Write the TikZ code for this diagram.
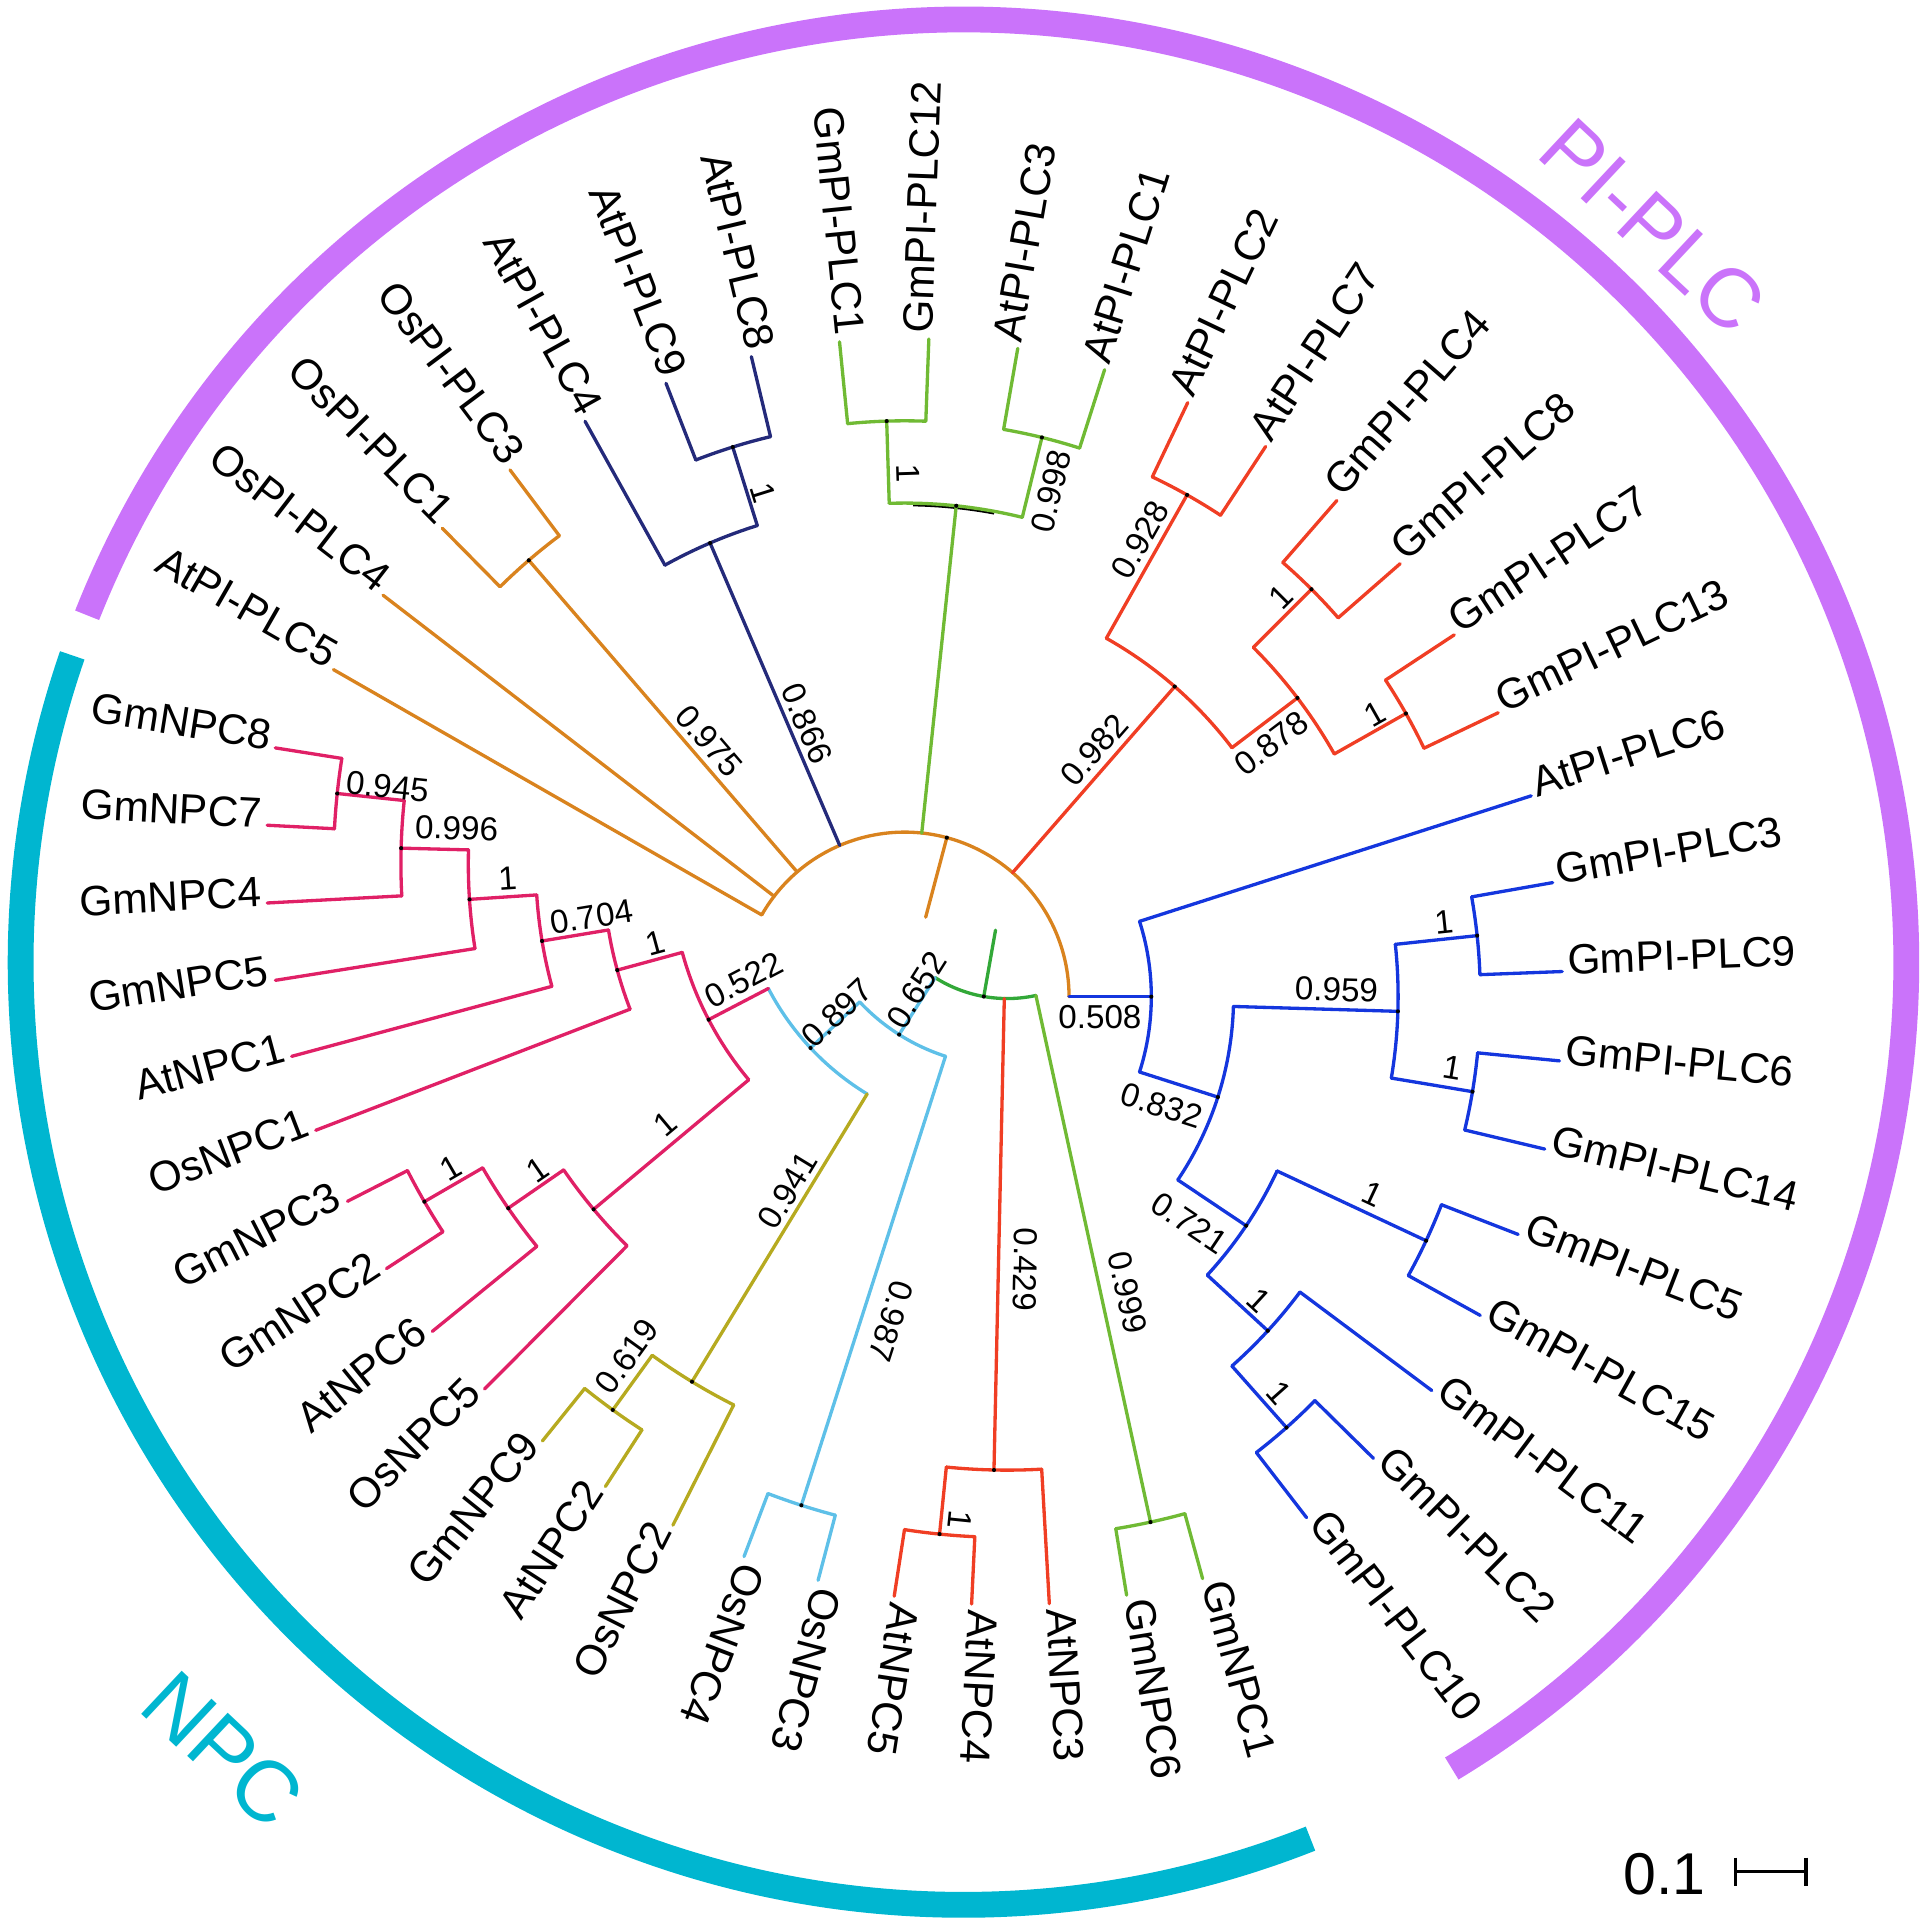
\documentclass[tikz,border=0pt]{standalone}
\usepackage{fontspec}
\setmainfont{Liberation Sans}
\definecolor{cOr}{RGB}{217,131,30}
\definecolor{cNavy}{RGB}{36,42,122}
\definecolor{cLg}{RGB}{112,186,52}
\definecolor{cRed}{RGB}{240,62,36}
\definecolor{cBlue}{RGB}{20,54,222}
\definecolor{cPink}{RGB}{224,32,102}
\definecolor{cLc}{RGB}{94,192,232}
\definecolor{cOl}{RGB}{182,170,32}
\definecolor{cDg}{RGB}{50,168,56}
\definecolor{cPur}{RGB}{202,115,250}
\definecolor{cCy}{RGB}{0,182,208}
\newcommand\trRad[4]{\draw[tree,#1] (#2:#3) -- (#2:#4);}
\newcommand\trArc[4]{\draw[tree,#1] (#2:#4) arc[start angle=#2,end angle=#3,radius=#4];}
\newcommand\lfR[4]{\node[leaf,anchor=mid west,rotate=#2] (#1) at (#2:#3) {#4};}
\newcommand\lfL[4]{\node[leaf,anchor=mid east,rotate=#2-180] (#1) at (#2:#3) {#4};}
\begin{document}
\begin{tikzpicture}[x=1pt,y=1pt,line cap=round,line join=round,
  tree/.style={line width=2.7pt},
  leaf/.style={font=\fontsize{34.5}{40}\selectfont,inner sep=4.5pt},
  supp/.style={font=\fontsize{27}{30}\selectfont,inner sep=0pt},
  ring/.style={line width=21pt,line cap=butt}]
\useasboundingbox (0,0) rectangle (1567,1568);
% ---------- rings ----------
\begin{scope}[shift={(784,785)}]
\draw[ring,cPur] (158.4:767) arc[start angle=158.4,end angle=-58.8,radius=767];
\draw[ring,cCy] (161.0:767) arc[start angle=161.0,end angle=291.6,radius=767];
\end{scope}
\node[font=\fontsize{68}{70}\selectfont,text=cPur,rotate=-43.1,inner sep=0pt] (tPI) at (1345,1384) {PI-PLC};
\node[font=\fontsize{70}{72}\selectfont,text=cCy,rotate=-43.2,inner sep=0pt] (tNPC) at (181.7,144.2) {NPC};
% ---------- PI-PLC subtree ----------
\begin{scope}[shift={(736,757)}]
\trArc{cOr}{150.2}{0}{133.88}
\trRad{cOr}{75.1}{133.88}{66.94}
\trRad{cOr}{150.2}{133.88}{535.5}
\trRad{cOr}{142.41}{133.88}{535.5}
\trRad{cOr}{130.725}{133.88}{468.58}
\trArc{cOr}{134.62}{126.83}{468.58}
\trRad{cOr}{134.62}{468.58}{535.5}
\trRad{cOr}{126.83}{468.58}{535.5}
\trRad{cNavy}{113.1975}{133.88}{401.64}
\trArc{cNavy}{119.04}{107.355}{401.64}
\trRad{cNavy}{119.04}{401.64}{535.5}
\trRad{cNavy}{107.355}{401.64}{468.58}
\trArc{cNavy}{111.25}{103.46}{468.58}
\trRad{cNavy}{111.25}{468.58}{535.5}
\trRad{cNavy}{103.46}{468.58}{535.5}
\draw[line width=1.8pt,line cap=butt,black] (89.0:399.9) arc[start angle=89.0,end angle=79.5,radius=399.9];
\trRad{cLg}{83.985}{133.88}{401.64}
\trArc{cLg}{91.775}{76.195}{401.64}
\trRad{cLg}{91.775}{401.64}{468.58}
\trArc{cLg}{95.67}{87.88}{468.58}
\trRad{cLg}{95.67}{468.58}{535.5}
\trRad{cLg}{87.88}{468.58}{535.5}
\trRad{cLg}{76.195}{401.64}{468.58}
\trArc{cLg}{80.09}{72.3}{468.58}
\trRad{cLg}{80.09}{468.58}{535.5}
\trRad{cLg}{72.3}{468.58}{535.5}
\trRad{cRed}{48.93}{133.88}{334.7}
\trArc{cRed}{60.615}{37.245}{334.7}
\trRad{cRed}{60.615}{334.7}{468.58}
\trArc{cRed}{64.51}{56.72}{468.58}
\trRad{cRed}{64.51}{468.58}{535.5}
\trRad{cRed}{56.72}{468.58}{535.5}
\trRad{cRed}{37.245}{334.7}{401.64}
\trArc{cRed}{45.035}{29.455}{401.64}
\trRad{cRed}{45.035}{401.64}{468.58}
\trArc{cRed}{48.93}{41.14}{468.58}
\trRad{cRed}{48.93}{468.58}{535.5}
\trRad{cRed}{41.14}{468.58}{535.5}
\trRad{cRed}{29.455}{401.64}{468.58}
\trArc{cRed}{33.35}{25.56}{468.58}
\trRad{cRed}{33.35}{468.58}{535.5}
\trRad{cRed}{25.56}{468.58}{535.5}
\trRad{cBlue}{0}{133.88}{200.82}
\trArc{cBlue}{17.77}{-17.772}{200.82}
\trRad{cBlue}{17.77}{200.82}{535.5}
\trRad{cBlue}{-17.772}{200.82}{267.76}
\trArc{cBlue}{-1.705}{-33.839}{267.76}
\trRad{cBlue}{-1.705}{267.76}{401.64}
\trArc{cBlue}{6.085}{-9.495}{401.64}
\trRad{cBlue}{6.085}{401.64}{468.58}
\trArc{cBlue}{9.98}{2.19}{468.58}
\trRad{cBlue}{9.98}{468.58}{535.5}
\trRad{cBlue}{2.19}{468.58}{535.5}
\trRad{cBlue}{-9.495}{401.64}{468.58}
\trArc{cBlue}{-5.6}{-13.39}{468.58}
\trRad{cBlue}{-5.6}{468.58}{535.5}
\trRad{cBlue}{-13.39}{468.58}{535.5}
\trRad{cBlue}{-33.839}{267.76}{334.7}
\trArc{cBlue}{-25.075}{-42.6025}{334.7}
\trRad{cBlue}{-25.075}{334.7}{468.58}
\trArc{cBlue}{-21.18}{-28.97}{468.58}
\trRad{cBlue}{-21.18}{468.58}{535.5}
\trRad{cBlue}{-28.97}{468.58}{535.5}
\trRad{cBlue}{-42.6025}{334.7}{401.64}
\trArc{cBlue}{-36.76}{-48.445}{401.64}
\trRad{cBlue}{-36.76}{401.64}{535.5}
\trRad{cBlue}{-48.445}{401.64}{468.58}
\trArc{cBlue}{-44.55}{-52.34}{468.58}
\trRad{cBlue}{-44.55}{468.58}{535.5}
\trRad{cBlue}{-52.34}{468.58}{535.5}
\foreach \a/\r in {75.1/133.88,130.725/468.58,113.1975/401.64,107.355/468.58,83.985/401.64,91.775/468.58,76.195/468.58,48.93/334.7,60.615/468.58,37.245/401.64,45.035/468.58,29.455/468.58,0/200.82,-17.772/267.76,-1.705/401.64,6.085/468.58,-9.495/468.58,-33.839/334.7,-25.075/468.58,-42.6025/401.64,-48.445/468.58}
  \fill (\a:\r) circle[radius=1.7];
\lfL{p1}{150.2}{535.5}{AtPI-PLC5}
\lfL{p2}{142.41}{535.5}{OsPI-PLC4}
\lfL{p3}{134.62}{535.5}{OsPI-PLC1}
\lfL{p4}{126.83}{535.5}{OsPI-PLC3}
\lfL{p5}{119.04}{535.5}{AtPI-PLC4}
\lfL{p6}{111.25}{535.5}{AtPI-PLC9}
\lfL{p7}{103.46}{535.5}{AtPI-PLC8}
\lfL{p8}{95.67}{535.5}{GmPI-PLC1}
\lfR{p9}{87.88}{535.5}{GmPI-PLC12}
\lfR{p10}{80.09}{535.5}{AtPI-PLC3}
\lfR{p11}{72.3}{535.5}{AtPI-PLC1}
\lfR{p12}{64.51}{535.5}{AtPI-PLC2}
\lfR{p13}{56.72}{535.5}{AtPI-PLC7}
\lfR{p14}{48.93}{535.5}{GmPI-PLC4}
\lfR{p15}{41.14}{535.5}{GmPI-PLC8}
\lfR{p16}{33.35}{535.5}{GmPI-PLC7}
\lfR{p17}{25.56}{535.5}{GmPI-PLC13}
\lfR{p18}{17.77}{535.5}{AtPI-PLC6}
\lfR{p19}{9.98}{535.5}{GmPI-PLC3}
\lfR{p20}{2.19}{535.5}{GmPI-PLC9}
\lfR{p21}{-5.6}{535.5}{GmPI-PLC6}
\lfR{p22}{-13.39}{535.5}{GmPI-PLC14}
\lfR{p23}{-21.18}{535.5}{GmPI-PLC5}
\lfR{p24}{-28.97}{535.5}{GmPI-PLC15}
\lfR{p25}{-36.76}{535.5}{GmPI-PLC11}
\lfR{p26}{-44.55}{535.5}{GmPI-PLC2}
\lfR{p27}{-52.34}{535.5}{GmPI-PLC10}
\end{scope}
% ---------- NPC subtree ----------
\begin{scope}[shift={(819.6,865.1)}]
\trArc{cDg}{237.656}{282.2775}{109.64}
\trRad{cDg}{259.967}{109.64}{54.82}
\trRad{cLc}{237.656}{109.64}{164.46}
\trArc{cLc}{223.11}{252.2025}{164.46}
\trRad{cLc}{223.11}{164.46}{219.28}
\trArc{cLc}{207.56}{238.669}{219.28}
\trRad{cLc}{252.2025}{164.46}{548.2}
\trArc{cLc}{249.195}{255.21}{548.2}
\trRad{cLc}{249.195}{548.2}{603.02}
\trRad{cLc}{255.21}{548.2}{603.02}
\trRad{cPink}{207.56}{219.28}{274.1}
\trArc{cPink}{195.248}{219.872}{274.1}
\trRad{cPink}{195.248}{274.1}{328.92}
\trArc{cPink}{189.421}{201.075}{328.92}
\trRad{cPink}{201.075}{328.92}{603.02}
\trRad{cPink}{189.421}{328.92}{383.74}
\trArc{cPink}{183.782}{195.06}{383.74}
\trRad{cPink}{195.06}{383.74}{603.02}
\trRad{cPink}{183.782}{383.74}{438.56}
\trArc{cPink}{178.519}{189.045}{438.56}
\trRad{cPink}{189.045}{438.56}{603.02}
\trRad{cPink}{178.519}{438.56}{493.38}
\trArc{cPink}{174.0075}{183.03}{493.38}
\trRad{cPink}{183.03}{493.38}{603.02}
\trRad{cPink}{174.0075}{493.38}{548.2}
\trArc{cPink}{171}{177.015}{548.2}
\trRad{cPink}{171}{548.2}{603.02}
\trRad{cPink}{177.015}{548.2}{603.02}
\trRad{cPink}{219.872}{274.1}{438.56}
\trArc{cPink}{214.609}{225.135}{438.56}
\trRad{cPink}{225.135}{438.56}{603.02}
\trRad{cPink}{214.609}{438.56}{493.38}
\trArc{cPink}{210.0975}{219.12}{493.38}
\trRad{cPink}{219.12}{493.38}{603.02}
\trRad{cPink}{210.0975}{493.38}{548.2}
\trArc{cPink}{207.09}{213.105}{548.2}
\trRad{cPink}{207.09}{548.2}{603.02}
\trRad{cPink}{213.105}{548.2}{603.02}
\trRad{cOl}{238.669}{219.28}{493.38}
\trArc{cOl}{234.1575}{243.18}{493.38}
\trRad{cOl}{243.18}{493.38}{603.02}
\trRad{cOl}{234.1575}{493.38}{548.2}
\trArc{cOl}{231.15}{237.165}{548.2}
\trRad{cOl}{231.15}{548.2}{603.02}
\trRad{cOl}{237.165}{548.2}{603.02}
\trRad{cRed}{268.744}{109.64}{493.38}
\trArc{cRed}{264.2325}{273.255}{493.38}
\trRad{cRed}{273.255}{493.38}{603.02}
\trRad{cRed}{264.2325}{493.38}{548.2}
\trArc{cRed}{261.225}{267.24}{548.2}
\trRad{cRed}{261.225}{548.2}{603.02}
\trRad{cRed}{267.24}{548.2}{603.02}
\trRad{cLg}{282.2775}{109.64}{548.2}
\trArc{cLg}{279.27}{285.285}{548.2}
\trRad{cLg}{279.27}{548.2}{603.02}
\trRad{cLg}{285.285}{548.2}{603.02}
\foreach \a/\r in {259.967/109.64,237.656/164.46,223.11/219.28,252.2025/548.2,207.56/274.1,195.248/328.92,189.421/383.74,183.782/438.56,178.519/493.38,174.0075/548.2,219.872/438.56,214.609/493.38,210.0975/548.2,238.669/493.38,234.1575/548.2,268.744/493.38,264.2325/548.2,282.2775/548.2}
  \fill (\a:\r) circle[radius=1.7];
\lfL{n1}{171}{603.02}{GmNPC8}
\lfL{n2}{177.015}{603.02}{GmNPC7}
\lfL{n3}{183.03}{603.02}{GmNPC4}
\lfL{n4}{189.045}{603.02}{GmNPC5}
\lfL{n5}{195.06}{603.02}{AtNPC1}
\lfL{n6}{201.075}{603.02}{OsNPC1}
\lfL{n7}{207.09}{603.02}{GmNPC3}
\lfL{n8}{213.105}{603.02}{GmNPC2}
\lfL{n9}{219.12}{603.02}{AtNPC6}
\lfL{n10}{225.135}{603.02}{OsNPC5}
\lfL{n11}{231.15}{603.02}{GmNPC9}
\lfL{n12}{237.165}{603.02}{AtNPC2}
\lfL{n13}{243.18}{603.02}{OsNPC2}
\lfR{n14}{249.195}{603.02}{OsNPC4}
\lfR{n15}{255.21}{603.02}{OsNPC3}
\lfR{n16}{261.225}{603.02}{AtNPC5}
\lfR{n17}{267.24}{603.02}{AtNPC4}
\lfR{n18}{273.255}{603.02}{AtNPC3}
\lfR{n19}{279.27}{603.02}{GmNPC6}
\lfR{n20}{285.285}{603.02}{GmNPC1}
\end{scope}
% ---------- support values ----------
\node[supp,rotate=-49.3] (s1) at (577,965) {0.975};
\node[supp,rotate=-72.6] (s2) at (621.2,1166.7) {1};
\node[supp,rotate=-66.8] (s3) at (656.6,979.4) {0.866};
\node[supp,rotate=-88.2] (s4) at (738.9,1182.8) {1};
\node[supp,rotate=76.2] (s5) at (855.1,1168.3) {0.998};
\node[supp,rotate=60.6] (s6) at (927.7,1128.8) {0.928};
\node[supp,rotate=48.9] (s7) at (890.4,957.8) {0.982};
\node[supp,rotate=45] (s8) at (1042,1082) {1};
\node[supp,rotate=37.2] (s9) at (1034.4,963.4) {0.878};
\node[supp,rotate=29.5] (s10) at (1118.9,986.8) {1};
\node[supp] (s11) at (895,740.8) {0.508};
\node[supp,rotate=6] (s12) at (1174.8,817.9) {1};
\node[supp,rotate=-1.7] (s13) at (1087.5,762.7) {0.959};
\node[supp,rotate=-9.5] (s14) at (1181.5,698.8) {1};
\node[supp,rotate=-17.8] (s15) at (945.2,668.5) {0.832};
\node[supp,rotate=-25.1] (s16) at (1117,596.6) {1};
\node[supp,rotate=-33.8] (s17) at (967.9,573) {0.721};
\node[supp,rotate=-42.6] (s18) at (1024.7,509.5) {1};
\node[supp,rotate=-48.4] (s19) at (1041,435) {1};
\node[supp,rotate=-6] (s20) at (315.5,928) {0.945};
\node[supp,rotate=-1.5] (s21) at (371.5,894.1) {0.996};
\node[supp,rotate=3.8] (s22) at (413.1,853.4) {1};
\node[supp,rotate=9.4] (s23) at (481.5,822.2) {0.704};
\node[supp,rotate=15.2] (s24) at (533.4,800.5) {1};
\node[supp,rotate=27.6] (s25) at (605,770.7) {0.522};
\node[supp,rotate=30.1] (s26) at (366.9,617.8) {1};
\node[supp,rotate=34.6] (s27) at (437.5,616.1) {1};
\node[supp,rotate=39.9] (s28) at (541.3,653.2) {1};
\node[supp,rotate=43.1] (s29) at (680.7,743.6) {0.897};
\node[supp,rotate=57.7] (s30) at (745.8,762.5) {0.652};
\node[supp,rotate=58.7] (s31) at (641,599.3) {0.941};
\node[supp,rotate=54.2] (s32) at (510.1,464.3) {0.619};
\node[supp,rotate=-107.8] (s33) at (725,493) {0.987};
\node[supp,rotate=-95.8] (s34) at (780.9,331.4) {1};
\node[supp,rotate=-91.3] (s35) at (834.3,535.1) {0.429};
\node[supp,rotate=-77.7] (s36) at (917.8,516.2) {0.999};
% ---------- scale bar ----------
\node[font=\fontsize{48}{50}\selectfont,inner sep=0pt] (sc) at (1354.3,43.2) {0.1};
\coordinate (b1) at (1411.9,44.9);
\coordinate (b2) at (1469.6,44.9);
\draw[line width=2.6pt,line cap=butt] (b1) -- (b2);
\draw[line width=2.6pt,line cap=butt] ([yshift=11.5pt]b1) -- ([yshift=-11.5pt]b1);
\draw[line width=2.6pt,line cap=butt] ([yshift=11.5pt]b2) -- ([yshift=-11.5pt]b2);
\end{tikzpicture}
\end{document}
